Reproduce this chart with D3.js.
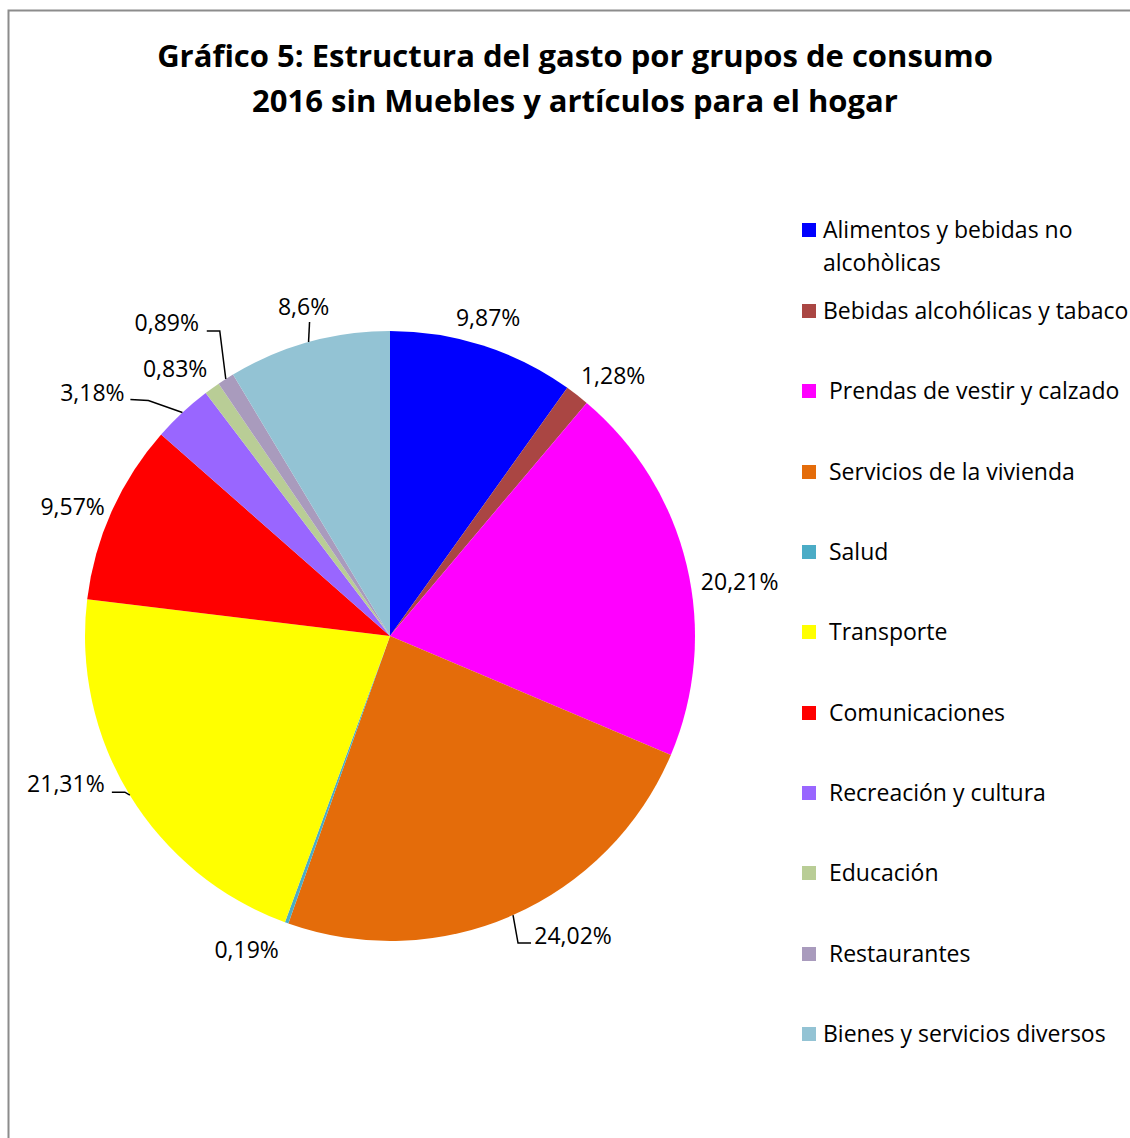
<!DOCTYPE html>
<html>
<head>
<meta charset="utf-8">
<script src="https://cdn.jsdelivr.net/npm/d3@7"></script>
<style>
  body { margin: 0; background: #fff; }
  text { font-family: "Open Sans", Lato, sans-serif; fill: #000; }
</style>
</head>
<body>
<div class="chart"></div>
<script>
(function() {
  var width = 1130, height = 1138;

  // data
  var categories = [
    "Alimentos y bebidas no|alcohòlicas",
    "Bebidas alcohólicas y tabaco",
    " Prendas de vestir y calzado",
    " Servicios de la vivienda",
    " Salud",
    " Transporte",
    " Comunicaciones",
    " Recreación y cultura",
    " Educación",
    " Restaurantes",
    "Bienes y servicios diversos"];
  var values = [9.87, 1.28, 20.21, 24.02, 0.19, 21.31, 9.57, 3.18, 0.83, 0.89, 8.6];
  var valueLabels = ["9,87%", "1,28%", "20,21%", "24,02%", "0,19%", "21,31%", "9,57%", "3,18%", "0,83%", "0,89%", "8,6%"];
  var colors = ["#0000FF", "#AA4643", "#FF00FF", "#E46C0A", "#4BACC6", "#FFFF00",
    "#FF0000", "#9966FF", "#B9CD96", "#A99BBD", "#93C3D4"];

  // label placement (offset of text centre from slice edge midpoint)
  var labelOffsets = [[5, -28], [36, -19], [53, 17], [60, 21], [-40, 27], [-64, -11],
    [-39, -4], [-90, -20], [-37, -19], [-59, -56], [-5, -35]];
  var leaders = {
    3: [[18, 28], [5, 28]],
    5: [[-18, -3], [-5, -3]],
    7: [[-52, -13], [-34, -12]],
    9: [[-19, -48], [-6, -48]],
    10: [[1, -20], [1, -20]]
  };

  var svg = d3.select(".chart").append("svg")
    .attr("width", width)
    .attr("height", height);

  // frame
  svg.append("path")
    .attr("d", "M1131,10.5 H8.5 V1139")
    .attr("fill", "none")
    .attr("stroke", "#8c8c8c")
    .attr("stroke-width", 2);

  // title
  var title = svg.append("text")
    .attr("x", 575)
    .attr("text-anchor", "middle")
    .style("font-weight", "bold")
    .style("font-size", "31px");
  title.append("tspan").attr("x", 575).attr("y", 67).text("Gráfico 5: Estructura del gasto por grupos de consumo");
  title.append("tspan").attr("x", 575).attr("y", 112).text("2016 sin Muebles y artículos para el hogar");

  var center = {x: 390, y: 636}, r = 305;
  var g = svg.append("g").attr("transform", "translate(" + center.x + "," + center.y + ")");

  var data = values.map(function(v, i) { return {value: v, i: i}; });
  var pie = d3.pie().sort(null).value(function(d) { return d.value; });
  var arc = d3.arc().innerRadius(0).outerRadius(r);
  var arcs = pie(data);

  g.selectAll("path.slice")
    .data(arcs)
    .enter().append("path")
      .attr("class", "slice")
      .attr("d", arc)
      .attr("fill", function(d) { return colors[d.data.i]; });

  function edgePoint(d) {
    var a = (d.startAngle + d.endAngle) / 2;
    return [r * Math.sin(a), -r * Math.cos(a)];
  }

  // leader lines
  arcs.forEach(function(d) {
    var l = leaders[d.data.i];
    if (!l) return;
    var p = edgePoint(d);
    var pts = [[p[0] + l[0][0], p[1] + l[0][1]], [p[0] + l[1][0], p[1] + l[1][1]], p];
    g.append("path")
      .attr("d", d3.line()(pts))
      .attr("fill", "none")
      .attr("stroke", "#000")
      .attr("stroke-width", 1.5);
  });

  g.selectAll("text.lab")
    .data(arcs)
    .enter().append("text")
      .attr("class", "lab")
      .attr("text-anchor", "middle")
      .attr("dy", "0.35em")
      .style("font-size", "23px")
      .attr("x", function(d) { return edgePoint(d)[0] + labelOffsets[d.data.i][0]; })
      .attr("y", function(d) { return edgePoint(d)[1] + labelOffsets[d.data.i][1]; })
      .text(function(d) { return valueLabels[d.data.i]; });

  // legend
  var legend = svg.append("g").attr("transform", "translate(802,0)");
  var legendY = [230, 311, 391, 472, 552, 632, 713, 793, 873, 954, 1034];
  var item = legend.selectAll("g.item")
    .data(categories)
    .enter().append("g")
      .attr("class", "item")
      .attr("transform", function(d, i) { return "translate(0," + legendY[i] + ")"; });
  item.append("rect")
    .attr("x", 0).attr("y", -7)
    .attr("width", 14).attr("height", 14)
    .attr("fill", function(d, i) { return colors[i]; });
  item.each(function(d) {
    var t = d3.select(this).append("text")
      .attr("x", 21)
      .style("font-size", "23px")
      .style("white-space", "pre");
    d.split("|").forEach(function(line, k) {
      t.append("tspan").attr("x", 21).attr("dy", k === 0 ? "0.35em" : "1.42em").text(line);
    });
  });
})();
</script>
</body>
</html>
